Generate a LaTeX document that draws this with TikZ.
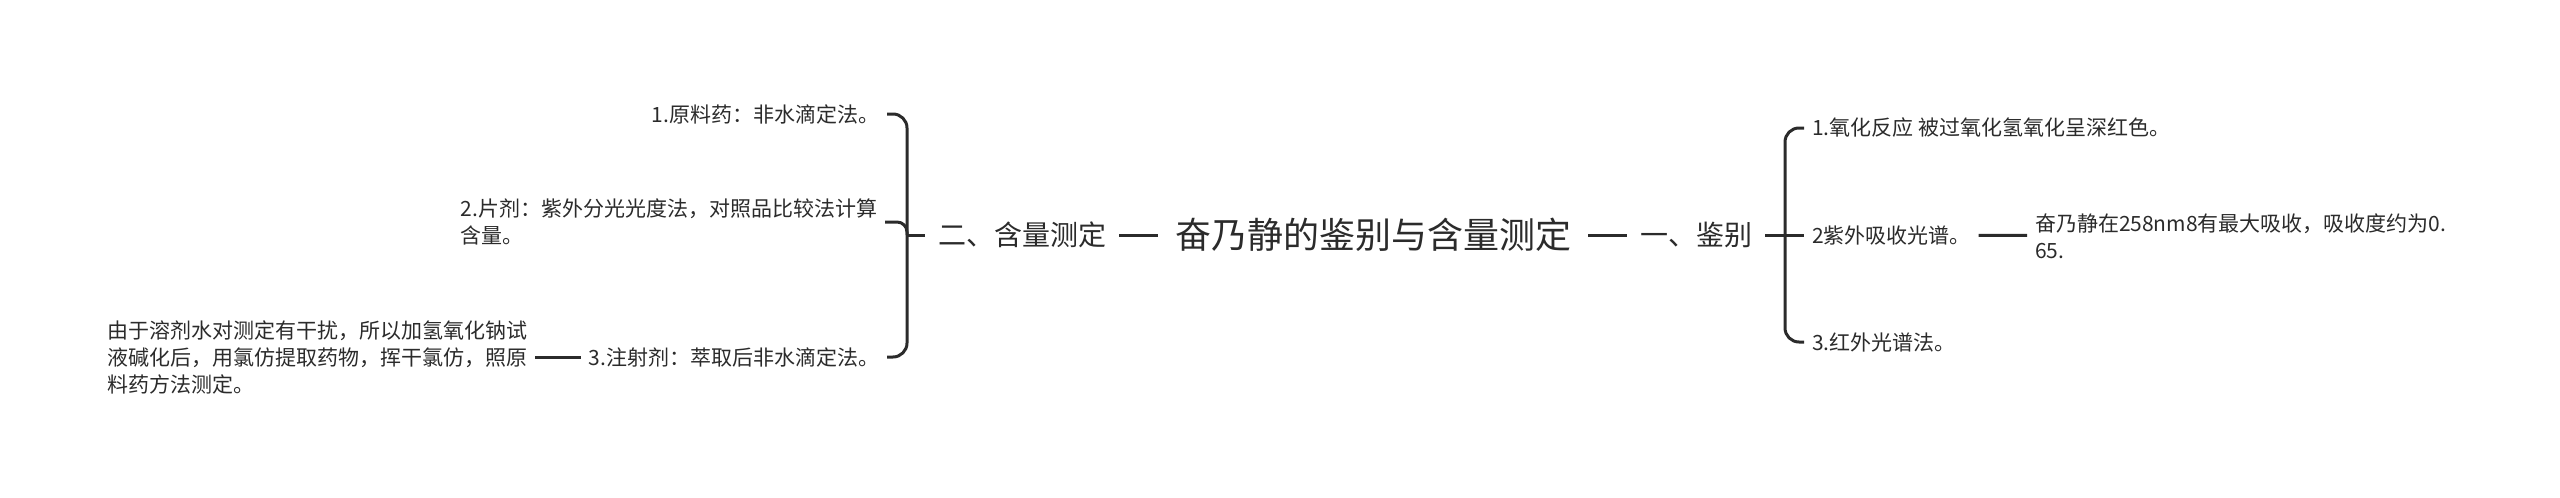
\documentclass[tikz,border=0pt]{standalone}
\usepackage{fontspec}
\setmainfont{Noto Sans CJK SC}
\definecolor{ink}{HTML}{2B2B2B}
\begin{document}
\begin{tikzpicture}[x=0.5pt,y=-0.5pt,line width=1.5pt,color=ink]

      \useasboundingbox (0,0) rectangle (2560,498);

      \begin{scope}[every node/.style={inner sep=0pt}]
        \node[outer xsep=8.5pt,font=\fontsize{18}{22}\selectfont] (root) at (1373,235) {奋乃静的鉴别与含量测定};
        \node[outer xsep=6.5pt,font=\fontsize{14}{17}\selectfont] (mL) at (1022,235) {二、含量测定};
        \node[outer xsep=6.5pt,font=\fontsize{14}{17}\selectfont] (mR) at (1696,235) {一、鉴别};
      \end{scope}

      \coordinate (jL) at (907,235);
      \coordinate (jR) at (1785,235);

      \begin{scope}[every node/.style={inner sep=0pt,outer xsep=4pt,align=left,
          font=\fontsize{10.5}{13.5}\selectfont}]
        \node[anchor=east] (l1)  at (887,114) {1.原料药：非水滴定法。};
        \node[anchor=east] (l2)  at (885,222) {2.片剂：紫外分光光度法，对照品比较法计算\\含量。};
        \node[anchor=east] (l3)  at (887,357) {3.注射剂：萃取后非水滴定法。};
        \node[anchor=east] (l31) at (535,357) {由于溶剂水对测定有干扰，所以加氢氧化钠试\\液碱化后，用氯仿提取药物，挥干氯仿，照原\\料药方法测定。};
        \node[anchor=west] (r1)  at (1804,128) {1.氧化反应 被过氧化氢氧化呈深红色。};
        \node[anchor=west] (r2)  at (1804,235) {2紫外吸收光谱。};
        \node[anchor=west] (r3)  at (1804,342) {3.红外光谱法。};
        \node[anchor=west] (r21) at (2027,236) {奋乃静在258nm8有最大吸收，吸收度约为0.\\65.};
      \end{scope}

      \begin{scope}[every edge/.style={draw}]
        \path (mL)   edge (root);
        \path (root) edge (mR);
        \path (mR)   edge (r2);
        \path (r2)   edge (r21);
        \path (l31)  edge (l3);
      \end{scope}

      \draw (mL) -- (jL);
      \draw[rounded corners=7pt] (l1) -| (jL) |- (l3);
      \draw[rounded corners=5pt] (l2) -| (jL);
      \draw[rounded corners=7pt] (r1) -| (jR) |- (r3);

    \end{tikzpicture}
\end{document}
